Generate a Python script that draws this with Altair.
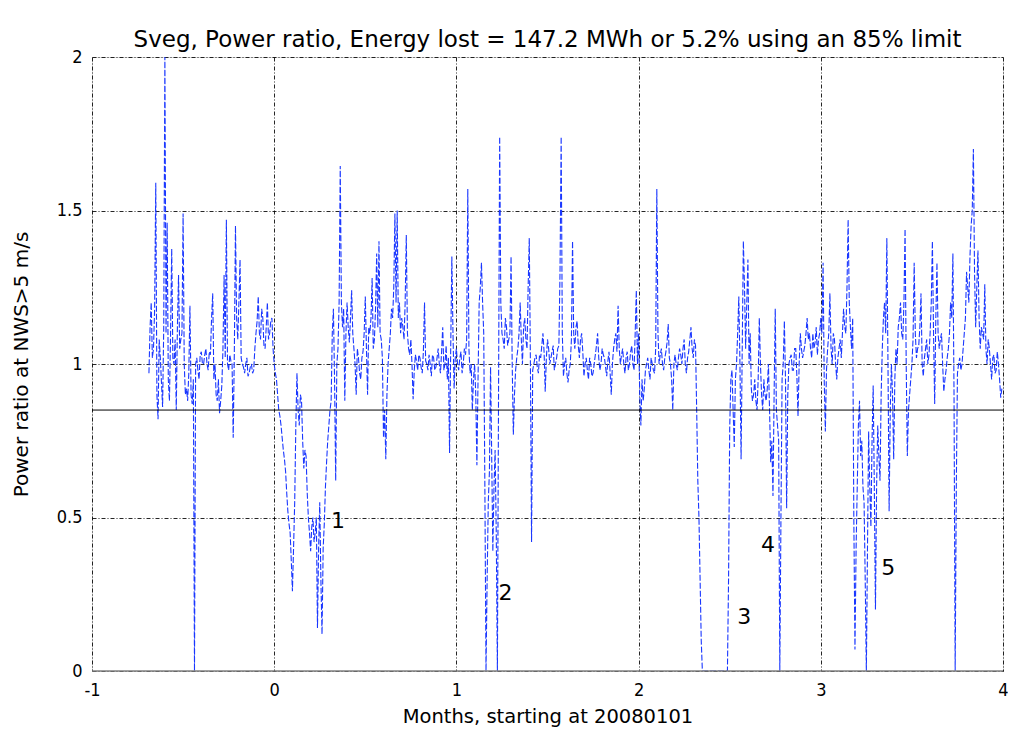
import altair as alt
import pandas as pd

# ---- data ----
STEP = 0.0125  # spacing of the main samples, in months
seg_start = [-0.6875, 0.0, 1.0, 2.0, 3.0]

# main samples (x = start + STEP*i)
ratio_m1 = [
    0.97, 1.20, 1.05, 1.59, 0.82, 1.02, 0.86, 2.0,
    1.46, 0.88, 1.375, 1.0, 0.85, 1.29, 1.08, 1.49,
    0.9, 0.88, 1.19, 0.87, 0.0, 1.02, 0.95, 1.04,
    1.0, 1.05, 0.98, 1.03, 1.23, 1.0, 0.88, 0.84,
    0.93, 1.29, 1.47, 0.98, 1.01, 0.76, 1.45, 1.08,
    1.34, 1.0, 0.97, 1.02, 0.97, 1.0, 0.98, 1.1,
    1.22, 1.08, 1.15, 1.05, 1.2, 1.1, 1.15,
]
ratio_0 = [
    1.0, 0.95, 0.85, 0.8, 0.72, 0.65, 0.52, 0.45,
    0.26, 0.55, 0.97, 0.8, 0.88, 0.66, 0.7, 0.5,
    0.39, 0.5, 0.45, 0.14, 0.55, 0.12, 0.48, 0.68,
    0.8, 0.88, 1.18, 0.62, 1.05, 1.645, 1.12, 0.88,
    1.2, 1.07, 1.24, 1.05, 0.9, 1.02, 0.95, 1.04,
    1.22, 0.9, 1.1, 1.28, 1.08, 1.36, 1.4, 1.08,
    0.76, 0.69, 1.0, 1.1, 1.15, 1.49, 1.5, 1.2,
    1.15, 1.08, 1.42, 1.05, 1.08, 0.885, 1.03, 0.98,
    1.02, 0.97, 1.2, 1.0, 1.03, 0.96, 1.02, 0.99,
    1.05, 0.97, 1.12, 1.0, 0.95, 0.71, 1.35, 0.92,
]
ratio_1 = [
    1.05, 0.98, 1.04, 1.0, 1.03, 1.57, 0.97, 0.85,
    1.0, 0.67, 1.2, 1.33, 1.1, 0.0, 0.55, 0.99,
    0.39, 0.72, 0.0, 1.74, 1.1, 1.05, 1.12, 1.08,
    1.35, 0.77, 0.98, 1.05, 1.2, 1.0, 1.15, 1.05,
    1.41, 0.42, 1.0, 1.03, 0.97, 1.02, 1.1, 0.91,
    1.08, 1.0, 1.04, 0.98, 1.02, 1.06, 1.74, 0.96,
    1.02, 0.94, 1.0, 1.4, 1.05, 1.14, 1.02, 1.1,
    0.96, 1.02, 0.95, 1.0, 0.97, 1.03, 1.1, 0.98,
    1.05, 1.02, 0.96, 1.04, 0.9, 1.05, 1.1, 1.19,
    1.0, 1.05, 0.97, 1.04, 1.0, 1.06, 0.98, 1.24,
]
ratio_2 = [
    1.1, 0.8, 0.88, 0.98, 1.02, 0.95, 1.0, 0.97,
    1.57, 1.0, 1.05, 0.98, 1.04, 1.13, 1.0, 0.85,
    1.03, 0.98, 1.05, 1.0, 1.08, 0.97, 1.04, 1.12,
    1.02, 1.06, 0.62, 0.3, 0.0, 0.0, 0.0, 0.0,
    0.0, 0.0, 0.0, 0.0, 0.0, 0.0, 0.0, 0.0,
    0.79, 0.98, 0.73, 1.0, 1.22, 0.69, 1.4, 1.05,
    1.34, 1.1, 0.88, 0.95, 0.85, 1.15, 0.9, 0.95,
    0.88, 1.0, 0.68, 0.57, 1.18, 0.8, 0.0, 0.95,
    1.14, 0.53, 1.0, 1.03, 0.98, 1.05, 0.83, 1.1,
    1.02, 1.06, 1.15, 1.1, 1.02, 1.05, 1.12, 1.08,
]
ratio_3 = [
    1.15, 1.33, 0.78, 1.05, 1.23, 1.0, 1.08, 0.95,
    1.05, 1.02, 1.18, 1.1, 1.47, 1.12, 1.15, 0.07,
    0.6, 0.88, 0.75, 0.55, 0.0, 0.78, 0.47, 0.93,
    0.2, 0.8, 0.62, 1.05, 1.2, 1.41, 0.52, 1.0,
    0.69, 1.05, 1.12, 1.2, 1.08, 1.44, 0.7, 0.9,
    1.0, 1.33, 1.02, 1.06, 1.23, 0.96, 1.05, 1.0,
    1.1, 1.4, 0.87, 1.33, 1.05, 1.1, 0.91, 0.98,
    1.05, 1.2, 1.36, 0.0, 0.97, 1.02, 1.0, 1.1,
    1.3, 1.2, 1.45, 1.7, 1.12, 1.37, 1.05, 1.1,
    1.26, 1.0, 1.05, 0.95, 1.03, 0.98, 1.0, 0.89,
]

# in-between samples (x = start + STEP*(i + 0.5))
mid_m1 = [
    1.12, 1.02, 1.18, 0.9, 1.08, 0.94, 1.12, 1.1,
    0.95, 1.1, 1.02, 1.08, 1.12, 1.05, 1.1, 1.0,
    0.92, 0.97, 0.9, 0.95, 1.0, 0.98, 1.03, 1.0,
    1.03, 1.0, 1.04, 1.15, 0.95, 0.9, 0.95, 0.88,
    1.05, 1.02, 1.0, 1.03, 1.0, 1.04, 1.15, 1.2,
    1.02, 0.99, 1.0, 0.96, 0.99, 0.97, 1.05, 1.14,
    1.1, 1.18, 1.06, 1.12, 1.08, 1.14, 1.05,
]
mid_0 = [
    0.97, 0.9, 0.83, 0.76, 0.69, 0.58, 0.48, 0.36,
    0.4, 0.8, 0.85, 0.9, 0.75, 0.72, 0.58, 0.45,
    0.47, 0.42, 0.5, 0.4, 0.3, 0.4, 0.6, 0.75,
    0.85, 1.1, 0.95, 1.0, 1.2, 1.2, 1.18, 1.1,
    1.12, 1.15, 1.1, 1.0, 1.05, 0.97, 1.02, 1.1,
    1.05, 1.12, 1.15, 1.05, 1.18, 1.12, 1.1, 1.02,
    0.85, 0.9, 1.05, 1.18, 1.25, 1.2, 1.15, 1.1,
    1.12, 1.2, 1.1, 1.03, 1.0, 0.98, 1.01, 1.03,
    0.99, 1.04, 1.01, 0.98, 1.0, 1.03, 0.98, 1.02,
    1.0, 1.04, 0.98, 1.06, 1.02, 1.05, 1.1, 1.02,
]
mid_1 = [
    1.0, 1.02, 0.97, 1.05, 1.08, 1.05, 1.0, 0.95,
    0.9, 0.95, 1.25, 1.2, 0.6, 0.3, 0.65, 0.7,
    0.6, 0.45, 0.9, 1.2, 1.08, 1.15, 1.06, 1.1,
    1.0, 0.9, 1.02, 1.1, 1.08, 1.12, 1.08, 1.25,
    1.0, 0.98, 1.02, 0.99, 1.03, 1.06, 1.04, 1.02,
    1.05, 1.02, 1.06, 1.0, 1.05, 1.3, 1.1, 1.0,
    0.97, 0.98, 1.08, 1.1, 1.12, 1.06, 1.08, 1.04,
    1.0, 0.98, 1.02, 0.96, 1.0, 1.06, 1.02, 1.0,
    1.03, 0.99, 1.01, 0.97, 1.0, 1.08, 1.04, 1.05,
    1.03, 1.0, 1.02, 0.98, 1.04, 1.0, 1.1, 1.0,
]
mid_2 = [
    0.9, 0.95, 0.92, 1.0, 0.98, 1.02, 0.98, 1.05,
    1.1, 1.03, 1.0, 1.02, 1.07, 1.02, 0.95, 1.0,
    1.0, 1.02, 1.03, 1.05, 1.0, 1.02, 1.08, 1.05,
    1.08, 0.85, 0.5, 0.1, 0.0, 0.0, 0.0, 0.0,
    0.0, 0.0, 0.0, 0.0, 0.0, 0.0, 0.0, 0.3,
    0.95, 0.85, 0.95, 1.1, 1.0, 1.05, 1.25, 1.2,
    1.0, 0.92, 0.9, 0.88, 0.95, 1.0, 0.85, 0.9,
    0.92, 0.85, 0.75, 0.9, 0.85, 0.75, 0.5, 1.0,
    0.95, 0.9, 1.02, 0.98, 1.05, 0.96, 1.0, 1.05,
    1.04, 1.1, 1.08, 1.05, 1.1, 1.07, 1.03, 1.1,
]
mid_3 = [
    1.1, 0.95, 0.98, 1.1, 1.05, 1.1, 1.0, 1.02,
    1.08, 1.1, 1.12, 1.25, 1.2, 1.05, 0.5, 0.4,
    0.8, 0.7, 0.6, 0.3, 0.4, 0.6, 0.75, 0.6,
    0.6, 0.7, 0.9, 1.15, 1.1, 1.0, 0.85, 0.9,
    0.95, 1.0, 1.15, 1.1, 1.2, 1.0, 0.85, 0.95,
    1.08, 1.1, 1.05, 1.12, 1.0, 1.02, 1.08, 1.03,
    1.2, 1.1, 1.15, 1.1, 1.08, 1.0, 0.95, 1.02,
    1.1, 1.15, 0.9, 0.6, 1.0, 0.98, 1.05, 1.15,
    1.25, 1.35, 1.5, 1.3, 1.25, 1.15, 1.12, 1.08,
    1.05, 1.08, 1.0, 1.02, 0.97, 1.04, 0.95, 0.92,
]

limit = [0.85]
frame_bottom = [0]

ann_label = ["1", "2", "3", "4", "5"]
ann_x = [0.35, 1.27, 2.58, 2.71, 3.37]
ann_y = [0.49, 0.254, 0.176, 0.41, 0.335]

x_ticks = [-1, 0, 1, 2, 3, 4]
y_ticks = [0, 0.5, 1, 1.5, 2]

# ---- tables ----
rows = []
mains = [ratio_m1, ratio_0, ratio_1, ratio_2, ratio_3]
mids = [mid_m1, mid_0, mid_1, mid_2, mid_3]
for start, vals, mvals in zip(seg_start, mains, mids):
    for i, v in enumerate(vals):
        rows.append({"months": round(start + STEP * i, 5), "ratio": v})
    for i, v in enumerate(mvals):
        rows.append({"months": round(start + STEP * (i + 0.5), 5), "ratio": v})
df = pd.DataFrame(rows).sort_values("months").reset_index(drop=True)
lim_df = pd.DataFrame({"y": limit})
bot_df = pd.DataFrame({"y": frame_bottom})
ann_df = pd.DataFrame({"x": ann_x, "y": ann_y, "t": ann_label})

TICK_FONT = "Liberation Sans Narrow, DejaVu Sans Condensed, DejaVu Sans"
LBL_FONT = "DejaVu Sans"

xscale = alt.Scale(domain=[-1, 4], nice=False, zero=False)
yscale = alt.Scale(domain=[0, 2], nice=False, zero=False)

xaxis = alt.Axis(
    values=x_ticks, labelExpr="toString(datum.value)", title="Months, starting at 20080101",
    grid=True, gridColor="#000000", gridDash=[4, 2, 1, 2], gridWidth=1, gridOpacity=0.85,
    ticks=False, domain=False, labelFont=TICK_FONT, labelFontSize=18, labelColor="#000000",
    labelPadding=10, titleFont=LBL_FONT, titleFontSize=19.5, titleFontWeight="normal",
    titleColor="#000000", titlePadding=8, labelFlush=False,
)
yaxis = alt.Axis(
    values=y_ticks, labelExpr="toString(datum.value)", title="Power ratio at NWS>5 m/s",
    grid=True, gridColor="#000000", gridDash=[4, 2, 1, 2], gridWidth=1, gridOpacity=0.85,
    ticks=False, domain=False, labelFont=TICK_FONT, labelFontSize=18, labelColor="#000000",
    labelPadding=10, titleFont=LBL_FONT, titleFontSize=20, titleFontWeight="normal",
    titleColor="#000000", titlePadding=25, labelFlush=False,
)

line = alt.Chart(df).mark_line(
    color="#1a37ff", strokeWidth=1.1, strokeDash=[6, 2], clip=True
).encode(
    x=alt.X("months:Q", scale=xscale, axis=xaxis),
    y=alt.Y("ratio:Q", scale=yscale, axis=yaxis),
    order="months:Q",
)

rule = alt.Chart(lim_df).mark_rule(color="#000000", strokeWidth=1).encode(
    y=alt.Y("y:Q", scale=yscale)
)

bottom = alt.Chart(bot_df).mark_rule(color="#808080", strokeWidth=1.5).encode(
    y=alt.Y("y:Q", scale=yscale)
)

labels = alt.Chart(ann_df).mark_text(
    font=LBL_FONT, fontSize=22, color="#000000"
).encode(
    x=alt.X("x:Q", scale=xscale),
    y=alt.Y("y:Q", scale=yscale),
    text="t:N",
)

chart = alt.layer(line, rule, bottom, labels).properties(
    width=911,
    height=614,
    title=alt.TitleParams(
        "Sveg, Power ratio, Energy lost = 147.2 MWh or 5.2% using an 85% limit",
        font=LBL_FONT, fontSize=23, fontWeight="normal", color="#000000",
        anchor="middle", offset=-4,
    ),
    padding={"left": 84, "top": 49, "right": 5, "bottom": 62},
    autosize=alt.AutoSizeParams(type="none"),
).configure_view(
    stroke="#808080", strokeWidth=1.5
).configure(background="#ffffff")

chart.save("out.html", embed_options={"renderer": "svg", "actions": False})
